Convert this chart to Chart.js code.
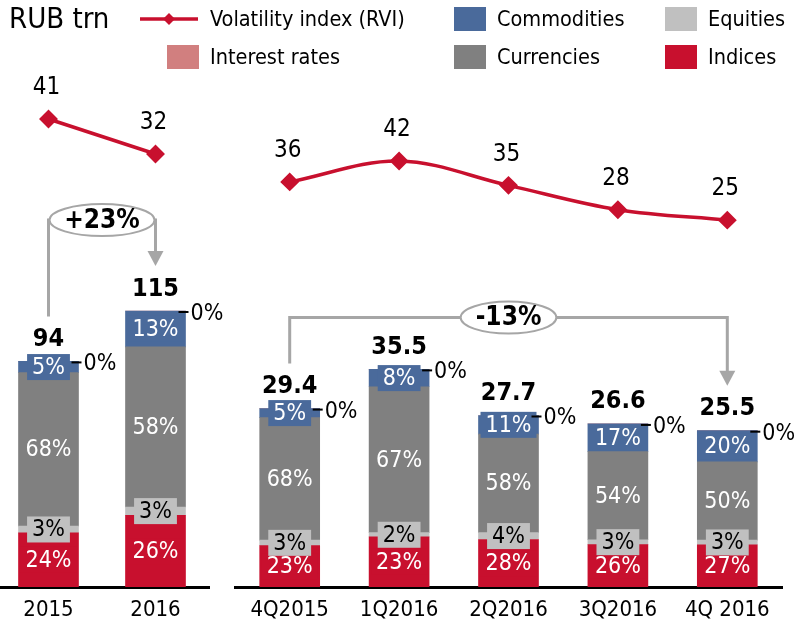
<!DOCTYPE html>
<html>
<head>
<meta charset="utf-8">
<script src="https://cdn.jsdelivr.net/npm/chart.js@4"></script>
<style>
  body { margin: 0; background: #fff; }
  #wrap { position: relative; width: 794px; height: 623px; overflow: hidden; }
  #quarters { position: absolute; left: 0; top: 0; }
  #years { position: absolute; left: -5px; top: 0; }
</style>
</head>
<body>
<div id="wrap">
  <canvas id="quarters" width="794" height="623"></canvas>
  <canvas id="years" width="240" height="623"></canvas>
</div>
<script>
// annual turnover, RUB trn, and share of each segment in %
const yearLabels = ['2015', '2016'];
const yearTotals = [94, 115];
const yearRvi = [41, 32];
const yearIndices = [24, 26];
const yearEquities = [3, 3];
const yearCurrencies = [68, 58];
const yearCommodities = [5, 13];
const yearRates = [0, 0];

// quarterly turnover
const quarterLabels = ['4Q2015', '1Q2016', '2Q2016', '3Q2016', '4Q 2016'];
const quarterTotals = [29.4, 35.5, 27.7, 26.6, 25.5];
const quarterRvi = [36, 42, 35, 28, 25];
const quarterIndices = [23, 23, 28, 26, 27];
const quarterEquities = [3, 2, 4, 3, 3];
const quarterCurrencies = [68, 67, 58, 54, 50];
const quarterCommodities = [5, 8, 11, 17, 20];
const quarterRates = [0, 0, 0, 0, 0];

const changeLabels = ['+23%', '-13%'];

const RED = '#c8102e';
const BLUE = '#4a6a9b';
const GREY = '#808080';
const LIGHT = '#c0c0c0';
const PINK = '#d17f7f';
const ARROW = '#a6a6a6';
const FONT = '"DejaVu Sans Condensed", "DejaVu Sans", sans-serif';

Chart.defaults.font.family = FONT;
Chart.defaults.color = '#000';

const part = (totals, shares) => totals.map((t, i) => t * shares[i] / 100);

function datasets(totals, rvi, ind, eq, cur, com, rates, tension) {
  const bar = (label, shares, color, textColor) => ({
    label, data: part(totals, shares), shares, textColor,
    backgroundColor: color, stack: 'total', barThickness: 60, order: 1
  });
  return [
    {
      type: 'line', label: 'Volatility index (RVI)', data: rvi, yAxisID: 'y2',
      borderColor: RED, backgroundColor: RED, borderWidth: 3.5,
      pointStyle: 'rectRot', pointRadius: 7, pointHoverRadius: 7,
      tension, order: 0
    },
    bar('Indices', ind, RED, '#fff'),
    bar('Equities', eq, LIGHT, '#000'),
    bar('Currencies', cur, GREY, '#fff'),
    bar('Commodities', com, BLUE, '#fff'),
    Object.assign(bar('Interest rates', rates, PINK, '#000'), { zeroTag: true })
  ];
}

// value labels, totals, 0% tags and the change bracket
const marks = {
  id: 'marks',
  afterDatasetsDraw(chart, args, opts) {
    const ctx = chart.ctx;
    const sets = chart.data.datasets;
    ctx.save();
    ctx.textAlign = 'center';
    ctx.textBaseline = 'middle';
    let tops = [];
    sets.forEach((ds, di) => {
      const meta = chart.getDatasetMeta(di);
      meta.data.forEach((el, i) => {
        if (ds.type === 'line') {
          ctx.font = '24px ' + FONT;
          ctx.fillStyle = '#000';
          ctx.fillText(String(ds.data[i]), el.x - 2, el.y - 31);
        } else if (ds.zeroTag) {
          const right = el.x + el.width / 2;
          tops[i] = { x: el.x, y: el.y };
          ctx.strokeStyle = '#000';
          ctx.lineWidth = 2;
          ctx.beginPath();
          ctx.moveTo(right - 7, el.y + 1);
          ctx.lineTo(right + 3, el.y + 1);
          ctx.stroke();
          ctx.font = '23px ' + FONT;
          ctx.fillStyle = '#000';
          ctx.textAlign = 'left';
          ctx.fillText(ds.shares[i] + '%', right + 5, el.y + 3);
          ctx.textAlign = 'center';
        } else if (ds.shares[i] > 0) {
          const txt = ds.shares[i] + '%';
          const cy = (el.y + el.base) / 2;
          ctx.font = '23px ' + FONT;
          const w = ctx.measureText(txt).width + 10;
          ctx.fillStyle = ds.backgroundColor;
          ctx.fillRect(el.x - w / 2, cy - 13, w, 26);
          ctx.fillStyle = ds.textColor;
          ctx.fillText(txt, el.x, cy + 1);
        }
      });
    });

    // totals above each bar
    ctx.font = 'bold 25px ' + FONT;
    ctx.fillStyle = '#000';
    tops.forEach((t, i) => ctx.fillText(String(opts.totals[i]), t.x, t.y - 22));

    // change bracket from the first bar to the last
    const a = tops[0], b = tops[tops.length - 1];
    const yBr = Math.min(a.y, b.y) - 91;
    const tip = b.y - 45;
    ctx.strokeStyle = ARROW;
    ctx.lineWidth = 3;
    ctx.beginPath();
    ctx.moveTo(a.x, a.y - 45);
    ctx.lineTo(a.x, yBr);
    ctx.lineTo(b.x, yBr);
    ctx.lineTo(b.x, tip - 14);
    ctx.stroke();
    ctx.fillStyle = ARROW;
    ctx.beginPath();
    ctx.moveTo(b.x - 8, tip - 15);
    ctx.lineTo(b.x + 8, tip - 15);
    ctx.lineTo(b.x, tip);
    ctx.closePath();
    ctx.fill();

    ctx.font = 'bold 26px ' + FONT;
    const tw = ctx.measureText(opts.change).width;
    const cx = (a.x + b.x) / 2;
    const rx = Math.min(tw / 2 + 15, (b.x - a.x) / 2 - 1);
    ctx.beginPath();
    ctx.ellipse(cx, yBr, rx, 16, 0, 0, Math.PI * 2);
    ctx.fillStyle = '#fff';
    ctx.fill();
    ctx.lineWidth = 2;
    ctx.strokeStyle = ARROW;
    ctx.stroke();
    ctx.fillStyle = '#000';
    ctx.fillText(opts.change, cx, yBr + 1);
    ctx.restore();
  }
};

// unit label and two-row legend on top
const legendRows = [
  ['Volatility index (RVI)', 'Commodities', 'Equities'],
  ['Interest rates', 'Currencies', 'Indices']
];
const header = {
  id: 'header',
  afterDraw(chart) {
    const ctx = chart.ctx;
    ctx.save();
    ctx.textBaseline = 'middle';
    ctx.textAlign = 'left';
    ctx.fillStyle = '#000';
    ctx.font = '29px ' + FONT;
    ctx.fillText('RUB trn', 9, 20);
    const colX = [210, 497, 708];
    const rowY = [19, 57];
    ctx.font = '21.5px ' + FONT;
    legendRows.forEach((row, r) => row.forEach((name, c) => {
      const ds = chart.data.datasets.find(d => d.label === name);
      const x = colX[c], y = rowY[r];
      if (ds.type === 'line') {
        ctx.strokeStyle = ds.borderColor;
        ctx.lineWidth = 3.5;
        ctx.beginPath();
        ctx.moveTo(x - 70, y);
        ctx.lineTo(x - 12, y);
        ctx.stroke();
        ctx.fillStyle = ds.borderColor;
        ctx.beginPath();
        ctx.moveTo(x - 41, y - 6);
        ctx.lineTo(x - 35, y);
        ctx.lineTo(x - 41, y + 6);
        ctx.lineTo(x - 47, y);
        ctx.closePath();
        ctx.fill();
      } else {
        ctx.fillStyle = ds.backgroundColor;
        ctx.fillRect(x - 43, y - 12, 32, 24);
      }
      ctx.fillStyle = '#000';
      ctx.fillText(name, x, y + 1);
    }));
    ctx.restore();
  }
};

function makeChart(id, labels, sets, cfg) {
  return new Chart(document.getElementById(id), {
    type: 'bar',
    data: { labels, datasets: sets },
    plugins: cfg.plugins,
    options: {
      responsive: false,
      animation: false,
      layout: {
        autoPadding: false,
        padding: { top: 60, bottom: 0, left: cfg.padLeft, right: cfg.padRight }
      },
      scales: {
        x: {
          stacked: true,
          grid: { display: false, drawTicks: false },
          border: { display: true, color: '#000', width: 3 },
          ticks: { color: '#000', font: { size: 22 }, padding: 10 },
          afterFit(s) { s.height = 36; }
        },
        y: { display: false, stacked: true, min: 0, max: cfg.barMax },
        y2: { display: false, stacked: false, min: cfg.rviMin, max: cfg.rviMax }
      },
      plugins: {
        legend: { display: false },
        tooltip: { enabled: false },
        marks: { totals: cfg.totals, change: cfg.change }
      }
    }
  });
}

makeChart('quarters', quarterLabels,
  datasets(quarterTotals, quarterRvi, quarterIndices, quarterEquities,
           quarterCurrencies, quarterCommodities, quarterRates, 0.35),
  { padLeft: 235, padRight: 12, barMax: 85.97, rviMin: -80.5, rviMax: 71.05,
    totals: quarterTotals, change: changeLabels[1], plugins: [marks, header] });

makeChart('years', yearLabels,
  datasets(yearTotals, yearRvi, yearIndices, yearEquities,
           yearCurrencies, yearCommodities, yearRates, 0),
  { padLeft: 0, padRight: 26, barMax: 219.6, rviMin: -79.34, rviMax: 56.17,
    totals: yearTotals, change: changeLabels[0], plugins: [marks] });
</script>
</body>
</html>
